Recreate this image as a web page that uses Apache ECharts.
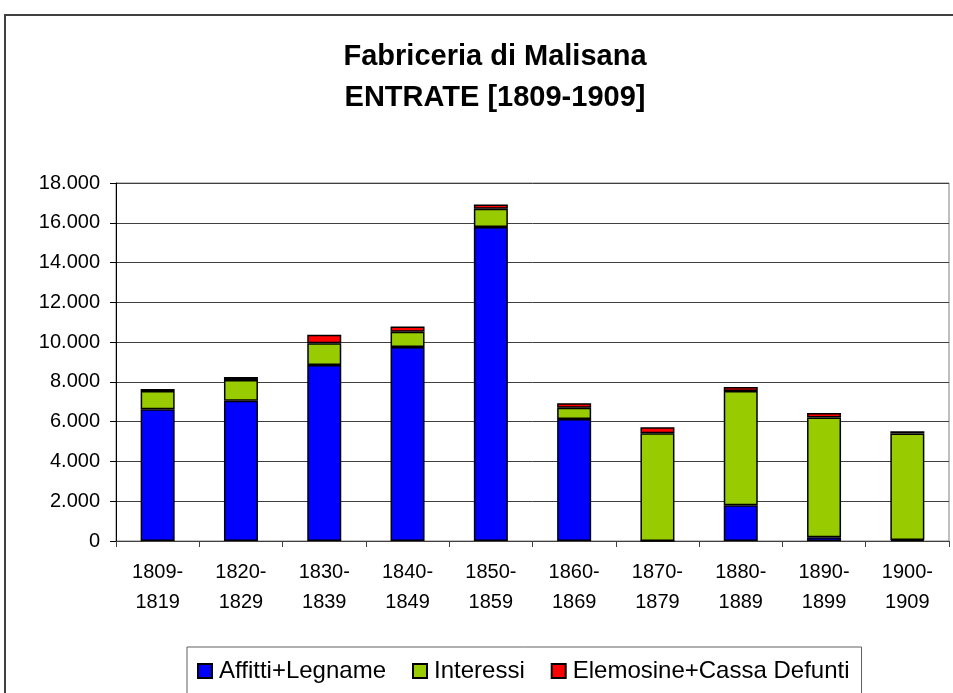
<!doctype html>
<html>
<head>
<meta charset="utf-8">
<title>Fabriceria di Malisana</title>
<style>
  html, body { margin: 0; padding: 0; background: #fff; }
  #chart { width: 953px; height: 693px; }
</style>
</head>
<body>
<div id="chart"></div>
<script src="https://cdn.jsdelivr.net/npm/echarts@6/dist/echarts.min.js"></script>
<script>
// decenni
var periods = ['1809-\n1819', '1820-\n1829', '1830-\n1839', '1840-\n1849', '1850-\n1859',
               '1860-\n1869', '1870-\n1879', '1880-\n1889', '1890-\n1899', '1900-\n1909'];
var affitti   = [6620, 7050, 8850, 9750, 15790, 6130, 0, 1800, 190, 50];
var interessi = [920, 1040, 1090, 770, 910, 570, 5420, 5740, 6020, 5360];
var elemosine = [100, 150, 430, 260, 220, 230, 300, 200, 220, 110];

var font = 'Liberation Sans, Arial, sans-serif';

function fmt(v) {
    return String(v).replace(/\B(?=(\d{3})+(?!\d))/g, '.');
}

function serie(name, color, data) {
    return {
        name: name,
        type: 'bar',
        stack: 'tot',
        barWidth: 34,
        itemStyle: { color: color, borderColor: '#000', borderWidth: 1.5 },
        emphasis: { disabled: true },
        data: data
    };
}

var myChart = echarts.init(document.getElementById('chart'));
var option = {
    animation: false,
    backgroundColor: '#fff',
    textStyle: { fontFamily: font },
    title: {
        text: 'Fabriceria di Malisana\nENTRATE [1809-1909]',
        left: 490,
        textAlign: 'center',
        top: 31,
        textStyle: { fontSize: 29, fontWeight: 'bold', color: '#000', lineHeight: 41, fontFamily: font }
    },
    graphic: [
        {
            type: 'rect',
            shape: { x: 5, y: 15, width: 1000, height: 1000 },
            style: { fill: 'none', stroke: '#404040', lineWidth: 2 },
            z: 0
        }
    ],
    legend: {
        left: 187,
        top: 647,
        padding: [12, 12, 30, 10],
        borderColor: '#606060',
        borderWidth: 1,
        itemWidth: 14,
        itemHeight: 14,
        itemGap: 26,
        icon: 'rect',
        textStyle: { fontSize: 24, color: '#000', fontFamily: font, padding: [0, 0, 0, 2] },
        data: ['Affitti+Legname', 'Interessi', 'Elemosine+Cassa Defunti']
    },
    grid: {
        left: 116,
        right: 4,
        top: 183,
        bottom: 152,
        show: true,
        borderColor: '#808080',
        borderWidth: 1
    },
    xAxis: {
        type: 'category',
        data: periods,
        axisLine: { lineStyle: { color: '#404040', width: 1 } },
        axisTick: { show: true, length: 6, lineStyle: { color: '#404040' } },
        axisLabel: { fontSize: 20, color: '#000', lineHeight: 30, margin: 16, interval: 0, fontFamily: font },
        splitLine: { show: false }
    },
    yAxis: {
        type: 'value',
        min: 0,
        max: 18000,
        interval: 2000,
        axisLine: { show: true, lineStyle: { color: '#000', width: 1 } },
        axisTick: { show: true, length: 6, lineStyle: { color: '#000' } },
        axisLabel: { fontSize: 20, color: '#000', margin: 16, formatter: fmt, fontFamily: font },
        splitLine: { show: true, lineStyle: { color: '#404040', width: 1 } }
    },
    series: [
        serie('Affitti+Legname', '#0000ff', affitti),
        serie('Interessi', '#99cc00', interessi),
        serie('Elemosine+Cassa Defunti', '#ff0000', elemosine)
    ]
};
myChart.setOption(option);
</script>
</body>
</html>
